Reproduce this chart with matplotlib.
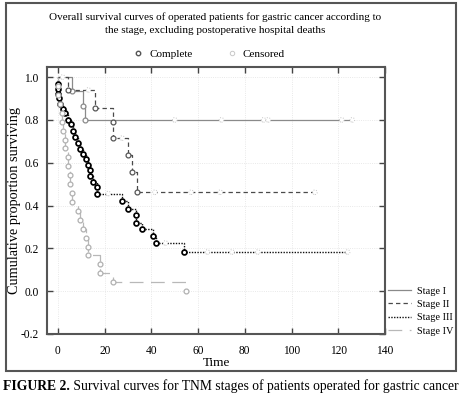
import numpy as np
import matplotlib
matplotlib.use('Agg')
import matplotlib.pyplot as plt
from matplotlib.lines import Line2D
from matplotlib.patches import Rectangle

plt.rcParams['font.family'] = ['Liberation Serif', 'DejaVu Serif']

# ---------------- data ----------------
title_text = ("Overall survival curves of operated patients for gastric cancer according to\n"
              "the stage, excluding postoperative hospital deaths")
caption_bold = "FIGURE 2."
caption_rest = " Survival curves for TNM stages of patients operated for gastric cancer"
x_label = "Time"
y_label = "Cumulative proportion surviving"
x_ticks = [0, 20, 40, 60, 80, 100, 120, 140]
y_ticks = [-0.2, 0.0, 0.2, 0.4, 0.6, 0.8, 1.0]
stage_names = ["Stage I", "Stage II", "Stage III", "Stage IV"]

s1_event_t = [5.8, 10.8, 11.6]
s1_event_s = [0.933, 0.867, 0.800]
s1_cens_t = [2, 50, 70, 88, 90, 121.5, 126]

s2_event_t = [4.5, 15.8, 23.7, 23.7, 29.8, 31.5, 34.0]
s2_event_s = [0.940, 0.857, 0.790, 0.715, 0.636, 0.558, 0.462]
s2_cens_t = [13, 27.5, 41.5, 57, 69.5, 110]

s3_event_t = [0, 0, 0.2, 0.5, 1.0, 2.1, 3.0, 4.3, 5.6, 6.4, 7.3, 8.6, 9.4, 10.7,
              12.2, 12.8, 13.7, 13.7, 15.0, 16.6, 16.6,
              27.4, 30.0, 33.5, 33.5, 35.8, 40.8, 42.0, 53.8]
s3_event_s = [0.967, 0.944, 0.920, 0.900, 0.874, 0.850, 0.830, 0.800, 0.780, 0.750,
              0.720, 0.690, 0.665, 0.640, 0.615, 0.590, 0.565, 0.540, 0.510, 0.485,
              0.456, 0.420, 0.385, 0.355, 0.320, 0.290, 0.260, 0.225, 0.183]
s3_cens_t = [21.5, 46, 64, 74.5, 85.6, 124]

s4_event_t = [0, 0, 1.0, 1.7, 1.7, 2.1, 3.0, 3.0, 4.3, 4.3, 5.0, 5.0, 6.0, 6.0,
              8.6, 9.4, 10.7, 12.0, 12.8, 12.8, 18.0, 18.0, 23.5, 55.0]
s4_event_s = [0.958, 0.917, 0.875, 0.833, 0.792, 0.750, 0.708, 0.667, 0.625, 0.583,
              0.542, 0.500, 0.458, 0.417, 0.375, 0.333, 0.292, 0.250, 0.208, 0.167,
              0.125, 0.083, 0.042, 0.000]
s4_cens_t = []

# ---------------- styles ----------------
styles = [
    dict(color='#8a8a8a', ls='-', lw=0.9, mcol='#8a8a8a', mew=0.9),
    dict(color='#4a4a4a', ls=(0, (3.5, 2.5)), lw=0.9, mcol='#555555', mew=0.9),
    dict(color='#111111', ls=(0, (1.0, 1.0)), lw=1.0, mcol='#000000', mew=1.25),
    dict(color='#b8b8b8', ls=(0, (11, 6)), lw=0.9, mcol='#b0b0b0', mew=0.9),
]
data = [
    (s1_event_t, s1_event_s, s1_cens_t),
    (s2_event_t, s2_event_s, s2_cens_t),
    (s3_event_t, s3_event_s, s3_cens_t),
    (s4_event_t, s4_event_s, s4_cens_t),
]

fig = plt.figure(figsize=(4.64, 3.99), dpi=100)
W, H = 464, 399
ax = fig.add_axes([47 / W, 1 - 334 / H, 338 / W, 267 / H])

for (et, es, ct), st in zip(data, styles):
    et = np.asarray(et, float)
    es = np.asarray(es, float)
    ct = np.asarray(ct, float)
    end = max(et.max(), ct.max() if ct.size else 0)
    xs = np.concatenate([[0], et, [end]])
    ys = np.concatenate([[1.0], es, [es[-1]]])
    ax.step(xs, ys, where='post', color=st['color'], linestyle=st['ls'],
            linewidth=st['lw'], zorder=2)
    ax.plot(et, es, linestyle='none', marker='o', markersize=3.5,
            markerfacecolor='white', markeredgecolor=st['mcol'],
            markeredgewidth=st['mew'], zorder=4)
    if ct.size:
        idx = np.searchsorted(et, ct, side='right')
        allv = np.concatenate([[1.0], es])
        cs = allv[idx]
        ax.scatter(ct, cs, s=11, facecolor='white', edgecolor='#c4c4c4',
                   linewidths=0.7, linestyle=':', zorder=3)

ax.set_xlim(-4.7, 140)
ax.set_ylim(-0.2, 1.047)
ax.set_xticks(x_ticks)
ax.set_yticks(y_ticks)
ax.set_xticklabels([str(v) for v in x_ticks])
ax.set_yticklabels(['%.1f' % v for v in y_ticks])
ax.grid(True, color='#e2e2e2', linestyle=':', linewidth=0.6, zorder=0)
ax.tick_params(direction='in', top=True, right=True, length=4, width=1.0,
               color='#444444', labelsize=8.3)
ax.tick_params(axis='x', pad=8)
ax.tick_params(axis='y', pad=6)
for sp in ax.spines.values():
    sp.set_color('#555555')
    sp.set_linewidth(1.5)

fig.text(217 / W, 1 - 363 / H, x_label, ha='center', va='center', fontsize=9.5)
fig.text(15 / W, 1 - 200 / H, y_label, rotation=90, ha='center', va='center',
         fontsize=10.3)

fig.text(0.463, 1 - 24 / H, title_text, ha='center', va='center', fontsize=8.0,
         linespacing=1.55)

# top legend
h_comp = Line2D([], [], linestyle='none', marker='o', markersize=3.2,
                markerfacecolor='white', markeredgecolor='#555555', markeredgewidth=1.0)
h_cens = Line2D([], [], linestyle='none', marker='o', markersize=3.2,
                markerfacecolor='white', markeredgecolor='#c8c8c8', markeredgewidth=0.7)
fig.legend([h_comp, h_cens], ['Complete', 'Censored'], loc='center',
           bbox_to_anchor=(0.45, 1 - 54 / H), ncol=2, frameon=False,
           fontsize=8.0, handletextpad=0.5, columnspacing=3.0, handlelength=1.0)

# right legend
hs = [Line2D([], [], color=st['color'], linestyle=st['ls'], linewidth=st['lw'])
      for st in styles]
fig.legend(hs, stage_names, loc='center left', bbox_to_anchor=(388 / W, 1 - 311 / H),
           frameon=False, fontsize=7.4, handlelength=2.2, handletextpad=0.6,
           labelspacing=0.4, borderaxespad=0, borderpad=0)

# outer frame
fig.add_artist(Rectangle((6 / W, 1 - 371 / H), 450 / W, 368 / H, transform=fig.transFigure,
                         fill=False, edgecolor='#555555', linewidth=1.5))

# caption
t1 = fig.text(3 / W, 1 - 386 / H, caption_bold, ha='left', va='center', fontsize=9.8,
              fontweight='bold')
fig.canvas.draw()
bb = t1.get_window_extent(renderer=fig.canvas.get_renderer())
fig.text(bb.x1 / W, 1 - 386 / H, caption_rest, ha='left', va='center', fontsize=9.8)

fig.savefig('out.png', dpi=100)
